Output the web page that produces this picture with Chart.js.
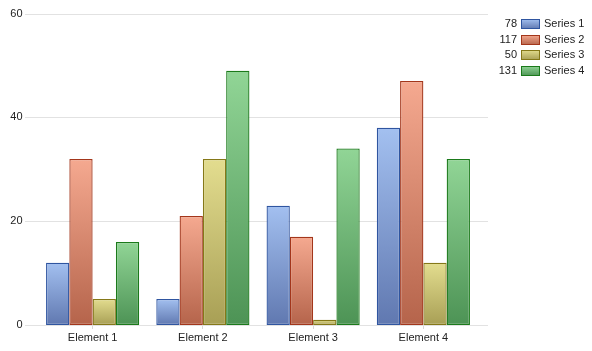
<!DOCTYPE html>
<html><head><meta charset="utf-8">
<script src="https://cdn.jsdelivr.net/npm/chart.js@4/dist/chart.umd.min.js"></script>
<style>html,body{margin:0;padding:0;background:#fff}#wrap{width:592px;height:351px;position:relative}</style>
</head><body><div id="wrap"><canvas id="c" width="592" height="351"></canvas></div>
<script>
const categories = ['Element 1', 'Element 2', 'Element 3', 'Element 4'];
const seriesNames = ['Series 1', 'Series 2', 'Series 3', 'Series 4'];
const series1 = [12, 5, 23, 38];
const series2 = [32, 21, 17, 47];
const series3 = [5, 32, 1, 12];
const series4 = [16, 49, 34, 32];
const yTicks = [0, 20, 40, 60];

const palette = [
  {top: '#a3c0f0', bottom: '#6078b0', border: '#2f55a0'},
  {top: '#f5a990', bottom: '#b5644b', border: '#a3361b'},
  {top: '#e3dd8f', bottom: '#a89f55', border: '#857818'},
  {top: '#91d596', bottom: '#4d9355', border: '#1b7a1b'}
];
const allSeries = [series1, series2, series3, series4];

function grad(ctx, c) {
  const chart = ctx.chart;
  if (!chart.chartArea || !ctx.parsed) return c.top;
  const y = chart.scales.y;
  const t = y.getPixelForValue(ctx.parsed.y), b = y.getPixelForValue(0);
  const g = chart.ctx.createLinearGradient(0, t, 0, b === t ? t + 1 : b);
  g.addColorStop(0, c.top); g.addColorStop(1, c.bottom);
  return g;
}

const gridPlugin = {
  id: 'gridPlugin',
  beforeDatasetsDraw(chart) {
    const c = chart.ctx, y = chart.scales.y;
    c.save();
    c.strokeStyle = '#e2e2e2'; c.lineWidth = 1;
    yTicks.forEach(v => {
      const p = Math.round(y.getPixelForValue(v)) + 0.5;
      c.beginPath(); c.moveTo(25, p); c.lineTo(488, p); c.stroke();
    });
    c.restore();
  },
  afterDraw(chart) {
    const c = chart.ctx;
    c.save();
    c.font = '11px "Liberation Sans", Arial, sans-serif';
    c.textBaseline = 'middle';
    seriesNames.forEach((name, i) => {
      const yc = 24 + i * 15.7;
      const sum = allSeries[i].reduce((a, b) => a + b, 0);
      c.fillStyle = '#222'; c.textAlign = 'right';
      c.fillText(String(sum), 517, yc);
      const top = Math.round(yc - 5);
      const g = c.createLinearGradient(0, top, 0, top + 10);
      g.addColorStop(0, palette[i].top); g.addColorStop(1, palette[i].bottom);
      c.fillStyle = g;
      c.fillRect(521, top, 19, 10);
      c.strokeStyle = palette[i].border; c.lineWidth = 1;
      c.strokeRect(521.5, top + 0.5, 18, 9);
      c.fillStyle = '#222'; c.textAlign = 'left';
      c.fillText(name, 544, yc);
    });
    c.restore();
  }
};

new Chart(document.getElementById('c'), {
  type: 'bar',
  data: {
    labels: categories,
    datasets: allSeries.map((d, i) => ({
      label: seriesNames[i],
      data: d,
      backgroundColor: ctx => grad(ctx, palette[i]),
      borderColor: palette[i].border,
      borderWidth: 1.3,
      borderSkipped: false,
      categoryPercentage: 0.845,
      barPercentage: 1
    }))
  },
  options: {
    responsive: false,
    animation: false,
    layout: {padding: {top: 6, right: 113.5, left: 0, bottom: 0}},
    plugins: {legend: {display: false}, tooltip: {enabled: false}},
    scales: {
      x: {
        afterFit: s => { s.height = 26; },
        grid: {display: true, drawOnChartArea: false, drawTicks: true, tickLength: 4, offset: false, color: '#d8d8d8'},
        border: {display: false},
        ticks: {color: '#222', padding: 2, font: {size: 11, family: '"Liberation Sans", Arial, sans-serif'}}
      },
      y: {
        min: 0, max: 60,
        afterFit: s => { s.width = 37.5; },
        afterBuildTicks: s => { s.ticks = yTicks.map(v => ({value: v})); },
        grid: {display: false},
        border: {display: false},
        ticks: {color: '#222', padding: 7, font: {size: 11, family: '"Liberation Sans", Arial, sans-serif'}}
      }
    }
  },
  plugins: [gridPlugin]
});
</script></body></html>
